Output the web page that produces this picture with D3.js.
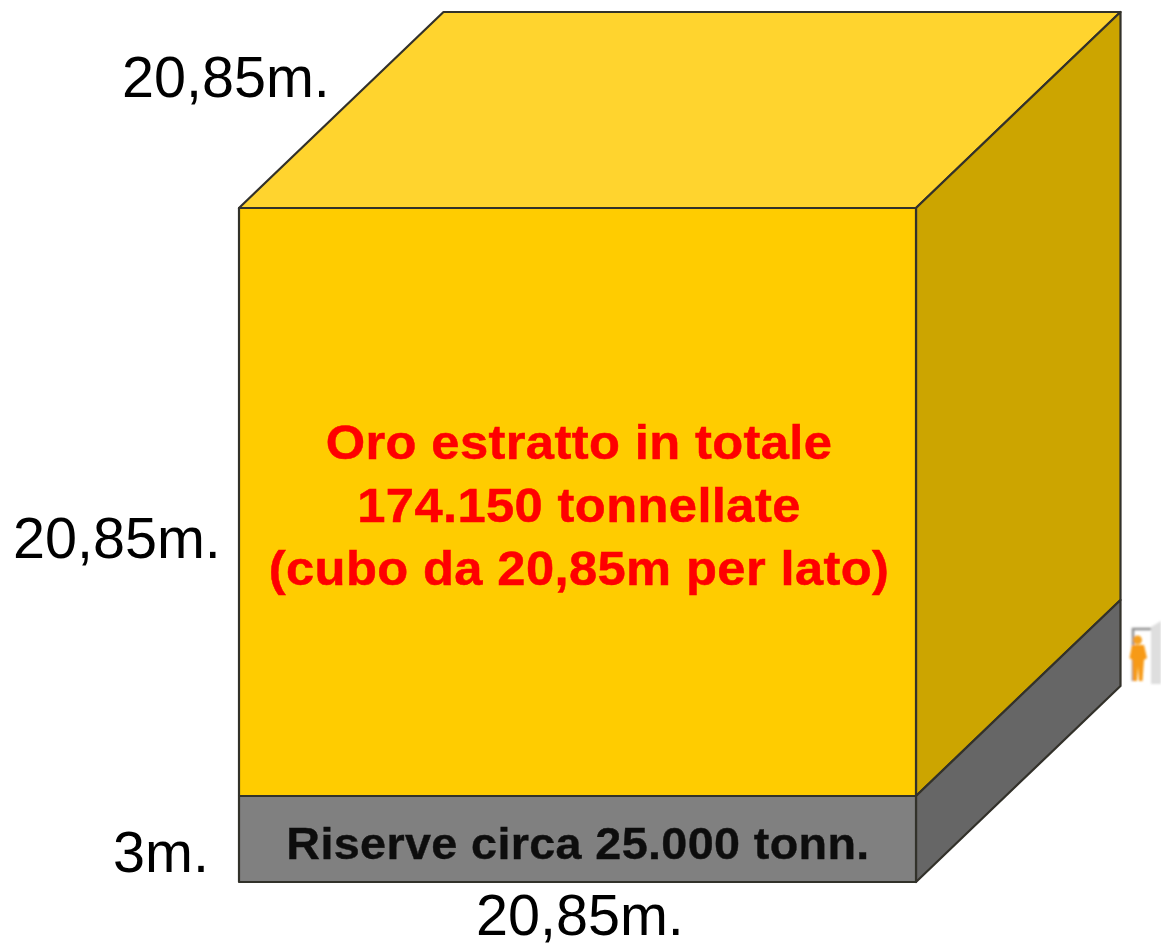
<!DOCTYPE html>
<html><head><meta charset="utf-8">
<style>html,body{margin:0;padding:0;background:#fff;overflow:hidden}svg{display:block}text{font-family:"Liberation Sans",Arial,sans-serif}</style>
<script src="https://cdn.jsdelivr.net/npm/d3@7"></script></head><body>
<script>
const sideMetres = 20.85;
const reserveMetres = 3;
const sideLabels = ["20,85m.", "20,85m.", "20,85m."];
const reserveLabel = "3m.";
const goldLines = ["Oro estratto in totale", "174.150 tonnellate", "(cubo da 20,85m per lato)"];
const reserveText = "Riserve circa 25.000 tonn.";

const W = 1161, H = 944;
const svg = d3.select("body").append("svg").attr("width", W).attr("height", H);
const defs = svg.append("defs");
defs.append("filter").attr("id", "soft").attr("x", "-5%").attr("y", "-5%").attr("width", "110%").attr("height", "110%")
  .append("feGaussianBlur").attr("stdDeviation", 0.55);
defs.append("filter").attr("id", "soft2").append("feGaussianBlur").attr("stdDeviation", 0.8);
const root = svg.append("g").attr("filter", "url(#soft)");

const xS = d3.scaleLinear().domain([0, sideMetres]).range([239, 916]);
const yS = d3.scaleLinear().domain([-reserveMetres, 0, sideMetres]).range([882, 796, 208]);
const zX = d3.scaleLinear().domain([0, sideMetres]).range([0, 204.5]);
const zY = d3.scaleLinear().domain([0, sideMetres]).range([0, -196]);
const P = (x, h, z) => [xS(x) + zX(z), yS(h) + zY(z)];
const s = sideMetres, r = -reserveMetres;
const faces = [
  {c: "#ffd42f", p: [[0,s,0],[s,s,0],[s,s,s],[0,s,s]]},
  {c: "#cca500", p: [[s,0,0],[s,s,0],[s,s,s],[s,0,s]]},
  {c: "#666666", p: [[s,r,0],[s,0,0],[s,0,s],[s,r,s]]},
  {c: "#ffcc00", p: [[0,0,0],[s,0,0],[s,s,0],[0,s,0]]},
  {c: "#808080", p: [[0,r,0],[s,r,0],[s,0,0],[0,0,0]]}
];
const line = d3.line();
root.append("g").selectAll("path").data(faces).join("path")
  .attr("d", d => line(d.p.map(q => P(...q))) + "Z")
  .attr("fill", d => d.c).attr("stroke", "#33302a").attr("stroke-width", 2.2).attr("stroke-linejoin", "round");

const t = root.append("g");
t.selectAll(".g").data(goldLines).join("text").attr("class", "g")
  .attr("transform", (d, i) => `translate(579,${459 + i * 63}) scale(1.035,1)`)
  .attr("text-anchor", "middle").attr("font-size", 49).attr("letter-spacing", 0.35).attr("font-weight", "bold")
  .attr("fill", "#ff0000").attr("stroke", "#ff0000").attr("stroke-width", 0.5).text(d => d);
t.append("text").attr("transform", "translate(578,859) scale(1.05,1)").attr("text-anchor", "middle")
  .attr("font-size", 44.5).attr("letter-spacing", 0.35).attr("font-weight", "bold")
  .attr("fill", "#111").attr("stroke", "#111").attr("stroke-width", 0.4).text(reserveText);
const labelPos = [[122, 97], [13, 558], [476, 935]];
t.selectAll(".l").data(sideLabels).join("text").attr("class", "l")
  .attr("x", (d, i) => labelPos[i][0]).attr("y", (d, i) => labelPos[i][1])
  .attr("font-size", 57.5).attr("fill", "#000").text(d => d);
t.append("text").attr("x", 113).attr("y", 872).attr("font-size", 57.5).attr("fill", "#000").text(reserveLabel);

// small door + person icon for scale
const icon = svg.append("g").attr("filter", "url(#soft2)");
icon.append("path").attr("d", "M1133 681V629H1152").attr("fill", "none").attr("stroke", "#8f8f8f").attr("stroke-width", 2.5);
icon.append("path").attr("d", "M1151 627L1161 621V684H1151Z").attr("fill", "#dedede");
icon.append("circle").attr("cx", 1137.5).attr("cy", 640).attr("r", 4.5).attr("fill", "#f5a020");
icon.append("path").attr("d", "M1132 645H1144L1147 658L1144 660L1142.5 681H1139L1138 666L1137 681H1133L1132.5 660L1129.5 658Z").attr("fill", "#f79a14");
</script></body></html>
